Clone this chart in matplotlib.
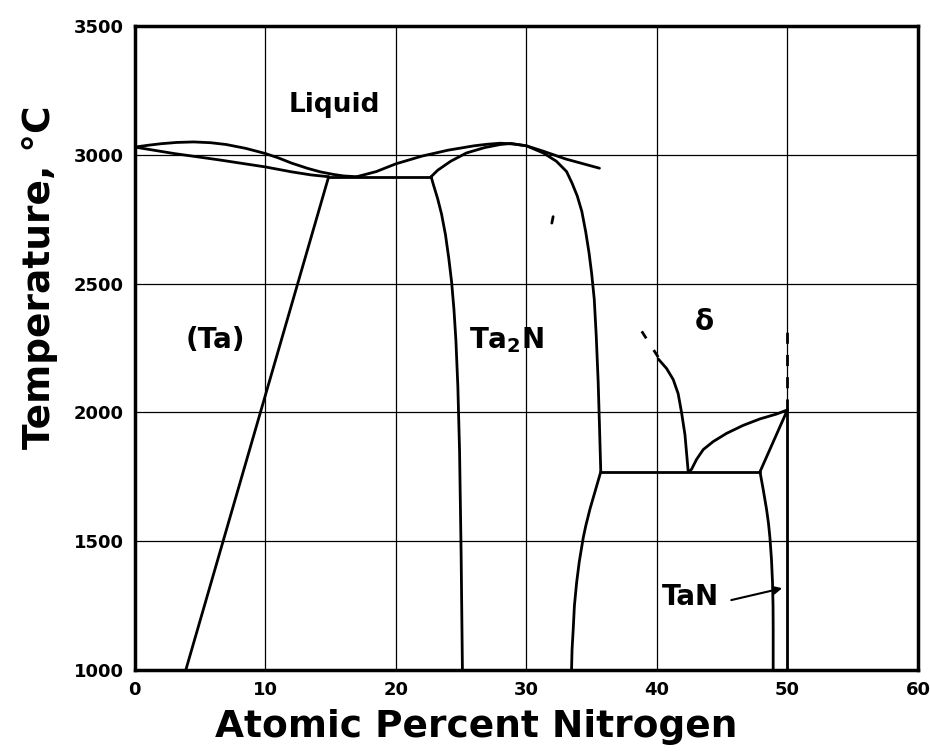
import matplotlib
matplotlib.use("Agg")
import matplotlib.pyplot as plt

plt.rcParams['font.family'] = ['DejaVu Sans']

# --- phase boundary data (at.% N, temperature in °C) ---
ta_liquidus_x = [0, 1, 2, 3.2, 4.5, 5.8, 7, 8.5, 10, 11, 12, 13.2, 14.2, 15.2, 16, 17]
ta_liquidus_t = [3030, 3037, 3043, 3048, 3050, 3047, 3040, 3025, 3005, 2988, 2968, 2948, 2934, 2924, 2918, 2915]

ta_solidus_x = [0, 3, 6.5, 10, 12, 13.5, 14.85]
ta_solidus_t = [3030, 3005, 2980, 2953, 2934, 2922, 2915]

ta_solvus_x = [3.9, 14.85]
ta_solvus_t = [1000, 2915]

eutectic_x = [14.85, 22.7]
eutectic_t = [2915, 2915]

ta2n_liquidus_x = [17, 18.5, 20, 22, 24, 26, 27, 28, 29, 30, 31.3, 33, 35.6]
ta2n_liquidus_t = [2915, 2935, 2965, 2995, 3018, 3035, 3041, 3045, 3042, 3035, 3014, 2984, 2948]

ta2n_solidus_left_x = [22.7, 23.2, 24.2, 25.4, 26.8, 28.0, 28.8]
ta2n_solidus_left_t = [2915, 2940, 2975, 3007, 3028, 3040, 3044]

ta2n_solidus_right_x = [28.8, 30, 31.3, 32.3, 33.08, 33.5, 33.9, 34.25, 34.55, 34.8, 35.0,
                        35.2, 35.35, 35.5, 35.6, 35.7]
ta2n_solidus_right_t = [3044, 3035, 3007, 2975, 2935, 2890, 2840, 2780, 2700, 2620, 2540,
                        2440, 2300, 2120, 1950, 1770]

ta2n_left_x = [22.7, 22.9, 23.2, 23.5, 23.8, 24.05, 24.27, 24.45, 24.6, 24.75, 24.88, 25.0, 25.1]
ta2n_left_t = [2915, 2880, 2830, 2770, 2690, 2600, 2507, 2400, 2280, 2100, 1850, 1450, 1000]

ta2n_low_right_x = [35.7, 35.3, 34.87, 34.55, 34.36, 34.05, 33.85, 33.68, 33.59, 33.5, 33.46]
ta2n_low_right_t = [1770, 1700, 1625, 1560, 1515, 1420, 1340, 1250, 1160, 1080, 1000]

eutectoid_x = [35.7, 47.9]
eutectoid_t = [1770, 1770]

delta_left_x = [40.10, 40.74, 41.25, 41.63, 41.89, 42.15, 42.40]
delta_left_t = [2208, 2171, 2128, 2073, 2000, 1914, 1770]

delta_left_dash_x = [40.10, 38.4]
delta_left_dash_t = [2215, 2350]

delta_right_x = [42.45, 42.66, 43.04, 43.55, 44.31, 45.34, 46.61, 47.89, 49.17, 50.0]
delta_right_t = [1770, 1780, 1818, 1856, 1887, 1919, 1950, 1975, 1994, 2010]

tan_upper_left_x = [47.9, 50.0]
tan_upper_left_t = [1770, 2010]

tan_low_left_x = [47.9, 48.15, 48.40, 48.55, 48.66, 48.78, 48.86, 48.9, 48.91, 48.91]
tan_low_left_t = [1770, 1700, 1625, 1570, 1515, 1430, 1340, 1250, 1160, 1000]

tan_right_x = [50.0, 50.0]
tan_right_t = [2010, 1000]

tan_dash_x = [50.0, 50.0]
tan_dash_t = [2010, 2350]

stray_mark_x = [31.95, 32.05]
stray_mark_t = [2735, 2760]

x_ticks = [0, 10, 20, 30, 40, 50, 60]
y_ticks = [1000, 1500, 2000, 2500, 3000, 3500]

fig = plt.figure(figsize=(9.30, 7.53), dpi=100)
ax = fig.add_axes([0.145, 0.110, 0.842, 0.8555])

ax.set_xlim(0, 60)
ax.set_ylim(1000, 3500)
ax.set_xticks(x_ticks)
ax.set_yticks(y_ticks)
ax.tick_params(length=0, pad=8, labelsize=13)
for lbl in ax.get_xticklabels() + ax.get_yticklabels():
    lbl.set_fontweight('bold')

ax.grid(True, color='black', linewidth=0.9)
ax.set_axisbelow(True)
for s in ax.spines.values():
    s.set_linewidth(2.5)
    s.set_color('black')

lw = 2.0
solid = dict(color='black', linewidth=lw, solid_capstyle='round', solid_joinstyle='round')

for xs, ts in [
    (ta_liquidus_x, ta_liquidus_t),
    (ta_solidus_x, ta_solidus_t),
    (ta_solvus_x, ta_solvus_t),
    (eutectic_x, eutectic_t),
    (ta2n_liquidus_x, ta2n_liquidus_t),
    (ta2n_solidus_left_x, ta2n_solidus_left_t),
    (ta2n_solidus_right_x, ta2n_solidus_right_t),
    (ta2n_left_x, ta2n_left_t),
    (ta2n_low_right_x, ta2n_low_right_t),
    (eutectoid_x, eutectoid_t),
    (delta_left_x, delta_left_t),
    (delta_right_x, delta_right_t),
    (tan_upper_left_x, tan_upper_left_t),
    (tan_low_left_x, tan_low_left_t),
    (tan_right_x, tan_right_t),
    (stray_mark_x, stray_mark_t),
]:
    ax.plot(xs, ts, **solid)

ax.plot(delta_left_dash_x, delta_left_dash_t, color='black', linewidth=lw, linestyle=(0, (3, 5)))
ax.plot(tan_dash_x, tan_dash_t, color='black', linewidth=lw, linestyle=(0, (4, 4)))

# phase field labels
lab = dict(fontsize=20, fontweight='bold', ha='center', va='center')
ax.text(15.3, 3195, 'Liquid', **dict(lab, fontsize=19))
ax.text(6.2, 2280, '(Ta)', **lab)
ax.text(28.5, 2280, 'Ta$_\\mathbf{2}$N', **lab)
ax.text(43.6, 2350, 'δ', **lab)
ax.text(42.6, 1285, 'TaN', **lab)
ax.annotate('', xy=(49.6, 1318), xytext=(45.7, 1272),
            arrowprops=dict(arrowstyle='-|>', color='black', lw=1.5,
                            mutation_scale=12, shrinkA=0, shrinkB=0))

ax.set_xlabel('Atomic Percent Nitrogen', fontsize=27, fontweight='bold')
ax.xaxis.set_label_coords(0.436, -0.06)
ax.set_ylabel('Temperature, °C', fontsize=27, fontweight='bold')
ax.yaxis.set_label_coords(-0.098, 0.61)

fig.savefig('out.png', dpi=100)
